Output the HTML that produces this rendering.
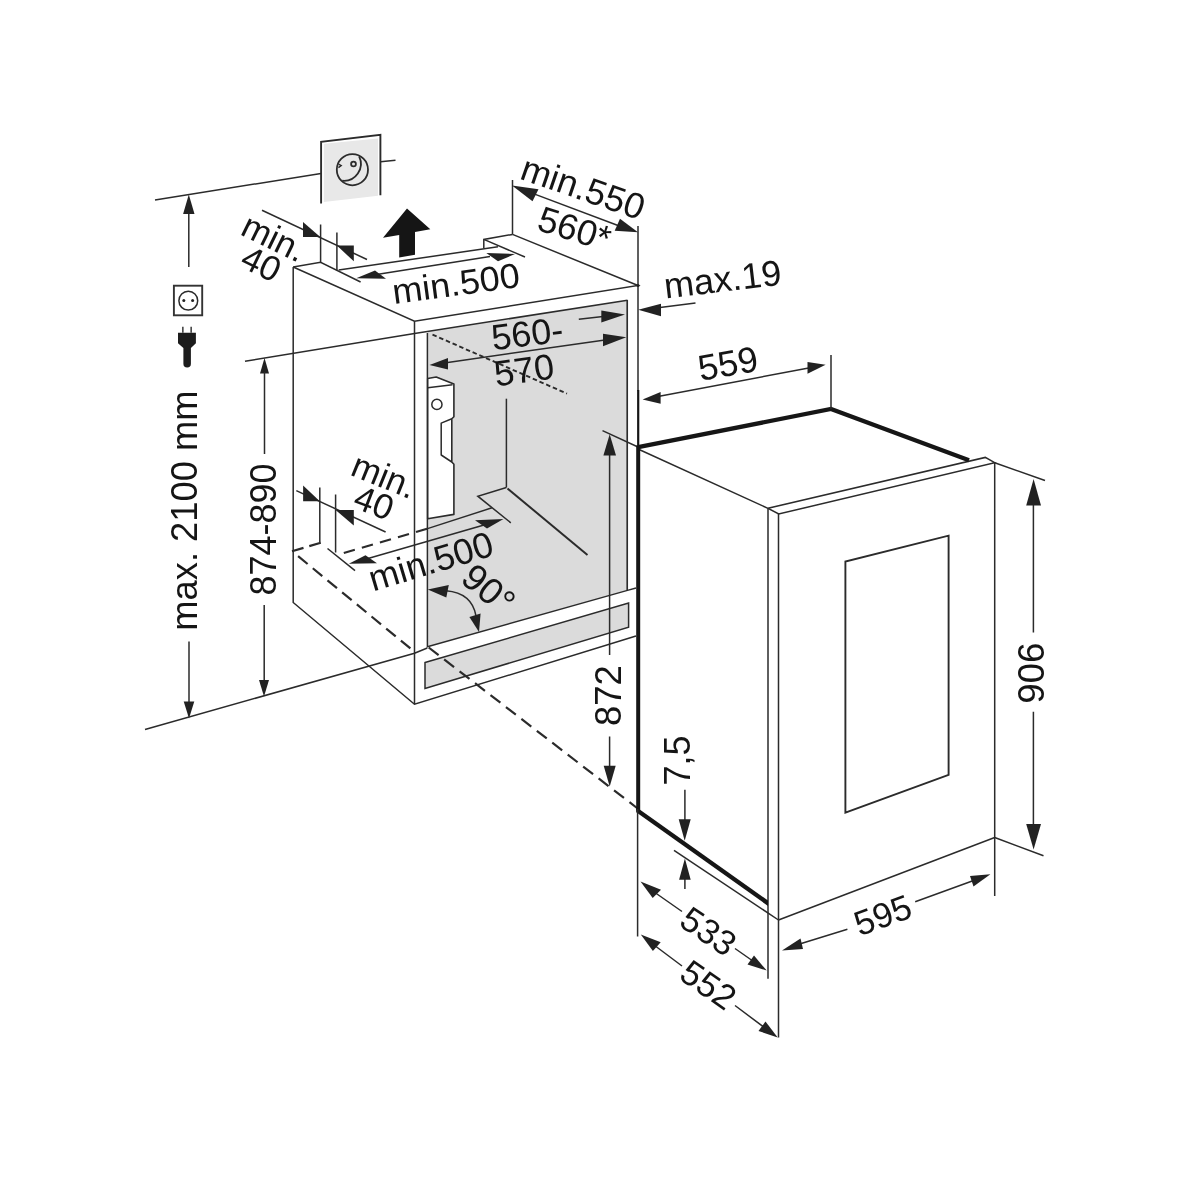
<!DOCTYPE html>
<html><head><meta charset="utf-8">
<style>
html,body{margin:0;padding:0;background:#fff;}
svg{display:block;filter:grayscale(1);}
text{font-family:"Liberation Sans",sans-serif;font-size:36px;fill:#151515;}
.l{stroke:#2b2b2b;stroke-width:1.5;fill:none;stroke-linecap:butt;}
.t{stroke:#161616;stroke-width:3.7;fill:none;stroke-linejoin:miter;}
.a{fill:#222;stroke:none;}
.g{fill:#dbdbdb;stroke:none;}
</style></head><body>
<svg width="1200" height="1200" viewBox="0 0 1200 1200">
<rect width="1200" height="1200" fill="#fff"/>

<!-- ===== gray fills ===== -->
<polygon class="g" points="427.5,331.5 626.5,300.7 626.5,590.5 427.5,646.8"/>
<polygon class="g" points="425,662.5 628.6,603 628.6,627.2 425,688.5"/>
<polygon class="g" points="323.8,143.8 378,138.5 378,195.7 323.8,202" style="fill:#e8e8e8"/>

<!-- ===== wall socket (top) ===== -->
<path class="l" d="M155,200 L321,173.4 M380.5,161.8 L395.5,160.2"/>
<path class="l" d="M321.1,203.5 L321.1,141.8 L380.4,134.8 L380.4,195.2" style="stroke-width:1.9"/>
<circle class="l" cx="352.4" cy="169.7" r="15.6" style="stroke-width:1.8"/>
<path class="l" d="M359.1,156.3 A17,17 0 0 1 342.3,180.7" style="stroke-width:1.8"/>
<path class="l" d="M338.6,164 L341.2,165.6 L338.4,167.6" style="stroke-width:1.4"/>
<circle class="l" cx="353.5" cy="164" r="2.4" style="stroke-width:1.8"/>

<!-- ===== 2100 dimension ===== -->
<path class="l" d="M188.8,213 L188.8,267"/>
<polygon class="a" points="188.8,194.5 194.5,214 183.1,214"/>
<rect class="l" x="173.9" y="285.7" width="28.3" height="29.6" style="stroke-width:1.9;stroke:#333"/>
<circle class="l" cx="188.3" cy="300.7" r="9.4"/>
<circle class="a" cx="183.8" cy="300.6" r="1.5"/>
<circle class="a" cx="192.6" cy="300.6" r="1.5"/>
<path d="M182.1,326.8 h1.5 v6 h-1.5 z M190.4,326.8 h1.5 v6 h-1.5 z" fill="#3a3a3a"/>
<path class="a" d="M178,332.8 H195.9 V343.3 L190.9,348 V363.7 A3.7,3.7 0 0 1 183.4,363.7 V348 L178,343.3 Z" style="fill:#1c1c1c"/>
<text transform="translate(197,630.7) rotate(-90)" style="font-size:36.35px">max. 2100 mm</text>
<path class="l" d="M189,641.5 L189,703"/>
<polygon class="a" points="189,718.5 194.3,701.5 183.7,701.5"/>
<path class="l" d="M145,729.5 L414.5,653.2 L427.3,648"/>

<!-- ===== 874-890 dimension ===== -->
<path class="l" d="M245,361.3 L414.5,333.5 L627.5,300.2"/>
<polygon class="a" points="264.5,358 269,373.5 260,373.5"/>
<path class="l" d="M264.5,372 L264.5,454 M264.2,605 L264.2,681"/>
<polygon class="a" points="264,696.5 269,680 259,680"/>
<text transform="translate(276.3,595.5) rotate(-90)">874-890</text>

<!-- ===== niche cabinet ===== -->
<path class="l" d="M293.2,267 L293.2,602.5 L414.5,704.2 L636,636"/>
<path class="l" d="M293.2,267 L414.5,321.3 L638,285.5 L512.5,234.4"/>
<path class="l" d="M414.5,321.3 L414.5,704.2"/>
<path class="l" d="M427.4,333 L427.4,646.8 L627.5,590.4 L636,588"/>
<path class="l" d="M627.2,300 L627.2,590.5" style="stroke-width:1.7"/>
<path class="l" d="M638,226 L638,391" style="stroke-width:1.5"/>
<path class="l" d="M638.2,390 L638.2,448" style="stroke-width:2.2;stroke:#161616"/>
<circle class="a" cx="638" cy="285.5" r="1.6"/>
<!-- top notch -->
<path class="l" d="M293.2,267 L320.6,262.3 L360.6,282"/>
<path class="l" d="M338.7,270 L498,246.8"/>
<path class="l" d="M483.8,248.2 L483.8,239.4 L512.5,234.4 M483.8,239.4 L525,257"/>
<path class="l" d="M320.6,224.5 L320.6,262.3 M336.9,232.5 L336.9,270.5"/>
<path class="l" d="M512.5,180 L512.5,234.4"/>
<!-- plinth -->
<polygon class="l" points="425,662.5 628.6,603 628.6,627.2 425,688.5"/>

<!-- hinge bracket -->
<polygon points="427.7,378.5 436.2,377 453.9,384.1 453.9,416.7 451.8,418.8 451.8,462 453.9,464.2 453.9,514.4 427.7,518.8" style="fill:#fff;stroke:#2b2b2b;stroke-width:1.6;stroke-linejoin:round"/>
<path class="l" d="M427.7,387.7 L452.5,384.7 M451.8,418.8 L441.2,423.1 L441.2,455 L451.8,462" style="stroke-linejoin:round"/>
<circle class="l" cx="436.9" cy="404.4" r="5.1"/>

<!-- inner niche lines -->
<path class="l" d="M506.4,398.7 L506.4,487.5"/>
<path class="l" d="M427.5,528.6 L492,507.8"/>
<path class="l" d="M510.8,522.8 L477.8,496.2 L506.4,487.5"/>
<path class="l" d="M507.5,488.5 L587.5,555" style="stroke-width:2"/>
<path class="l" d="M432.5,334.6 L567,393.6" style="stroke-dasharray:4.5 2.8;stroke-width:1.9"/>
<path class="l" d="M602.5,430.6 L638,447"/>

<!-- dashed hidden lines -->
<path class="l" d="M292,551.3 L321.3,542.6" style="stroke-dasharray:12 6;stroke-width:2.2"/>
<path class="l" d="M327.5,548.5 L355,570.6"/>
<path class="l" d="M343.8,553 L427.3,528.7" style="stroke-dasharray:11.5 7.3;stroke-width:2.2"/>
<path class="l" d="M298.1,556.2 L410.5,648.5" style="stroke-dasharray:12.3 6.7;stroke-width:2.2"/>
<path class="l" d="M428.7,647.5 L637,808" style="stroke-dasharray:12.5 7;stroke-width:2.2"/>
<path class="l" d="M319.8,487.5 L319.8,542.5 M335.6,494.4 L335.6,552.5"/>

<!-- ===== arrows / dimension lines on niche ===== -->
<!-- min 40 top -->
<path class="l" d="M262,210.2 L367,259.5"/>
<polygon class="a" points="320.3,237 303,222 303,237"/>
<polygon class="a" points="336.9,245.6 353.8,245.6 353.8,261.3"/>
<!-- big arrow -->
<polygon points="407,208.4 430.3,229.2 415,232 415,254.8 399.2,257.6 399.2,235 383,237.8" fill="#151515"/>
<!-- min.500 top -->
<path class="l" d="M375,274.8 L490,256.5"/>
<polygon class="a" points="356.2,278.2 386,278.8 375,270.6"/>
<polygon class="a" points="515,254 486.3,253 498,261.3"/>
<!-- min.550 -->
<path class="l" d="M530,192.4 L620,226.2"/>
<polygon class="a" points="512,185.6 538.5,189.3 532.5,201.3"/>
<polygon class="a" points="638,232.3 620,218.7 614.7,230.7"/>
<!-- max.19 -->
<path class="l" d="M578.8,319.3 L603,316.5 M660,307.5 L695.5,303"/>
<polygon class="a" points="625,314.5 601.3,310.5 601.3,322.5"/>
<polygon class="a" points="638.2,309.8 661,303.8 661,316.3"/>
<!-- 560-570 -->
<path class="l" d="M446,362.7 L605,340"/>
<polygon class="a" points="429.5,365 448,358 448,369.5"/>
<polygon class="a" points="626.3,337.3 603,333.8 603,346.3"/>
<!-- min 40 middle -->
<path class="l" d="M296.3,490.6 L385.6,532"/>
<polygon class="a" points="319.8,501.2 303.1,485.6 303.1,501.2"/>
<polygon class="a" points="335.6,510 353.8,510 353.8,525.6"/>
<!-- min.500 bottom -->
<path class="l" d="M368,558.5 L484,525"/>
<polygon class="a" points="348.8,563.8 377,563.3 365.5,555.3"/>
<polygon class="a" points="503.5,519 475,520.3 487,528.5"/>
<!-- 90 deg -->
<path class="l" d="M446,590.8 Q472,593 476,616"/>
<polygon class="a" points="427.8,589.4 448.8,585 446.3,597.5"/>
<polygon class="a" points="479,631.9 469.4,616.9 480.6,613.5"/>
<!-- 872 -->
<path class="l" d="M609.6,454 L609.6,654.9 M609.6,736.6 L609.6,767"/>
<polygon class="a" points="609.7,434.2 616,455.6 603.4,455.6"/>
<polygon class="a" points="609.7,786.5 615.7,765.8 603.7,765.8"/>

<!-- ===== appliance ===== -->
<path class="l" d="M638,449 L768,508.3 L778.7,514 L994.7,462.7 L985.3,457.4 L768,508.3"/>
<path class="l" d="M768,508.3 L768,978.7 M778.5,514 L778.5,1037.5 M994.7,462.7 L994.7,896"/>
<path class="l" d="M778.5,920 L994.7,837.5"/>
<path class="l" d="M674,850.3 L778.5,920"/>
<path class="l" d="M845.4,812.6 L845.4,561.5 L948.6,535.7 L948.6,774.9 Z" style="stroke-width:1.9"/>
<path class="t" d="M969,460.3 L831,409 L638.2,447.2" style="stroke-width:4.3"/>
<rect x="636.2" y="445.5" width="4" height="365" fill="#161616"/>
<polygon points="636.2,806.9 768,900.5 768,905.9 636.2,812.3" fill="#161616"/>
<path class="l" d="M637.6,809 L637.6,936.5"/>
<!-- 559 -->
<path class="l" d="M831,355 L831,409"/>
<path class="l" d="M658,396.5 L810,367.7"/>
<polygon class="a" points="642.6,399.5 660.6,392 660.6,403.8"/>
<polygon class="a" points="825.6,364.8 807.5,362 807.5,373.8"/>
<!-- 906 -->
<path class="l" d="M994.7,462.7 L1045,480.5 M994.7,837.5 L1043.5,855.8"/>
<path class="l" d="M1033.4,504 L1033.4,632.4 M1033.4,711.7 L1033.4,826"/>
<polygon class="a" points="1033.6,479 1041,505.5 1026.2,505.5"/>
<polygon class="a" points="1033.6,849.6 1041,824 1026.2,824"/>
<!-- 595 -->
<path class="l" d="M798,944.5 L847.4,929.2 M915.2,901.7 L975,880"/>
<polygon class="a" points="782,950.5 800.5,938.5 803,949"/>
<polygon class="a" points="990.4,874.2 970,876 973.5,886.5"/>
<!-- 533 -->
<path class="l" d="M652,890.5 L682,911.5 M735,948.5 L755,962.5"/>
<polygon class="a" points="640.5,881.5 661,889.8 652.7,898"/>
<polygon class="a" points="766.7,970.6 747.5,964.5 754,955.5"/>
<!-- 552 -->
<path class="l" d="M652,943.5 L682,966 M735,1005.5 L765,1028"/>
<polygon class="a" points="640.8,934.4 660.7,942.2 652.9,951"/>
<polygon class="a" points="777.7,1037.4 758.5,1031 765.5,1021.5"/>
<!-- 7,5 -->
<path class="l" d="M684.9,789.8 L684.9,821 M684.9,878 L684.9,889"/>
<polygon class="a" points="684.7,840.8 690.7,819.2 678.7,819.2"/>
<polygon class="a" points="684.9,858.4 690.7,879.7 679.1,879.7"/>

<!-- ===== texts ===== -->
<text transform="translate(239,234) rotate(26)" style="font-size:35px">min.</text>
<text transform="translate(238.5,266) rotate(26)" style="font-size:35px">40</text>
<text transform="translate(394,304) rotate(-7.7) scale(1.03,1)" style="font-size:35px">min.500</text>
<text transform="translate(518.5,178.5) rotate(19)">min.550</text>
<text transform="translate(535.5,229.5) rotate(17.5)">560*</text>
<text transform="translate(665.5,298.5) rotate(-6.8)">max.19</text>
<text transform="translate(493,350.3) rotate(-7)">560-</text>
<text transform="translate(496,386.5) rotate(-8)">570</text>
<text transform="translate(700.5,381) rotate(-10.2)">559</text>
<text transform="translate(349,474.5) rotate(22)" style="font-size:35px">min.</text>
<text transform="translate(351.5,507) rotate(21)" style="font-size:35px">40</text>
<text transform="translate(373,591.5) rotate(-16.7)">min.500</text>
<text transform="translate(459,581) rotate(40)" style="font-size:37px">90°</text>
<text transform="translate(621,726) rotate(-90)" style="font-size:36.5px">872</text>
<text transform="translate(690,785.5) rotate(-90)" style="font-size:36px">7,5</text>
<text transform="translate(1018.3,642.6) rotate(90)" style="font-size:36.5px">906</text>
<text transform="translate(859.5,936.5) rotate(-20)" style="font-size:35px">595</text>
<text transform="translate(677.5,925) rotate(34)" style="font-size:35px">533</text>
<text transform="translate(677.5,978) rotate(35)" style="font-size:35px">552</text>
</svg>
</body></html>
